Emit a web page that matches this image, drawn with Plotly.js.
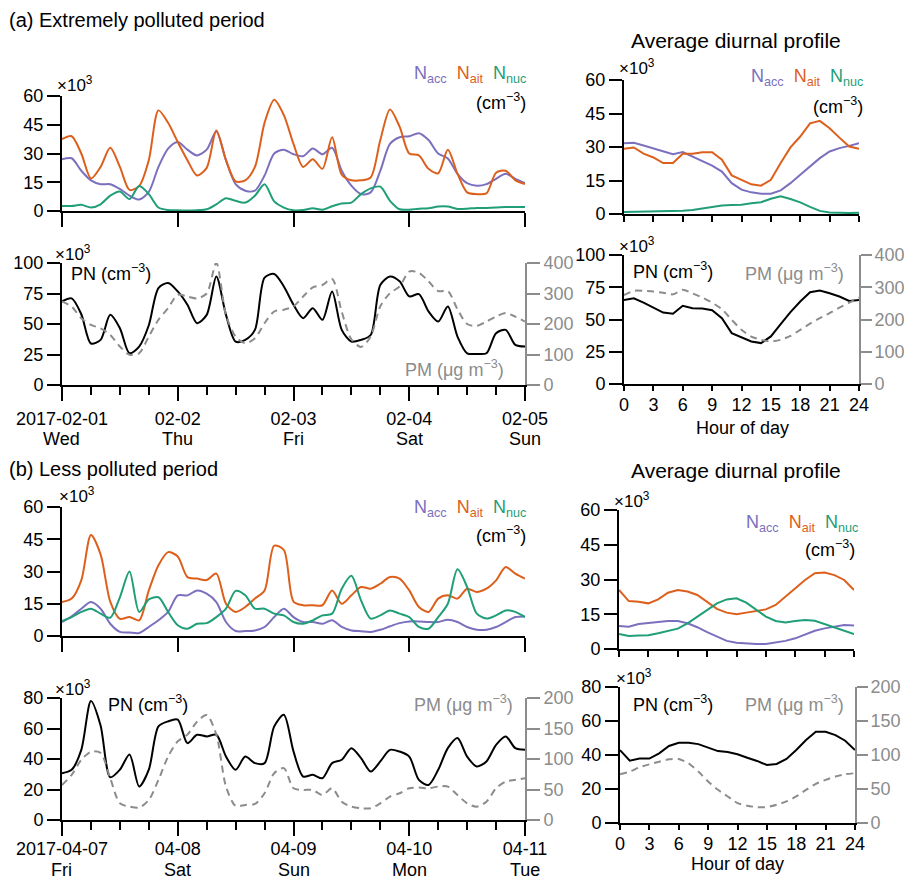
<!DOCTYPE html>
<html>
<head>
<meta charset="utf-8">
<script src="https://cdn.plot.ly/plotly-3.0.1.min.js"></script>
<style>
  html, body { margin: 0; padding: 0; background: #fff; }
  #chart { width: 904px; height: 879px; }
</style>
</head>
<body>
<div id="chart"></div>
<script>
// ---------- data ----------
// Four-day series sampled every 2 hours (hours since first midnight)
const extDates  = ['2017-02-01', '02-02', '02-03', '02-04', '02-05'];
const extWeekdays = ['Wed', 'Thu', 'Fri', 'Sat', 'Sun'];
const lessDates = ['2017-04-07', '04-08', '04-09', '04-10', '04-11'];
const lessWeekdays = ['Fri', 'Sat', 'Sun', 'Mon', 'Tue'];
const dayTicks = [0, 24, 48, 72, 96];
const hourTicks = [0, 3, 6, 9, 12, 15, 18, 21, 24];

// (a) extremely polluted period, number concentrations (x10^3 cm^-3)
const extNacc = [27, 27.5, 21, 16, 14, 14, 11.5, 8, 6, 10, 23, 32.5, 36, 32, 29, 32, 41.5, 26.5, 14, 10.6,
  10.6, 18.5, 30, 32, 29.6, 28.6, 32.6, 29.6, 33, 21, 13.2, 8.8, 9.7, 21, 35, 38.5, 39, 40.6, 37, 30,
  27.4, 19.4, 14.5, 13.2, 14, 16.8, 19.4, 16.8, 14.6];
const extNait = [37.5, 39, 30, 17, 23, 33, 23, 11, 13, 26.5, 52.5, 46, 36, 26.5, 18.5, 22.5, 42, 26.5, 15.5, 16,
  23, 46, 58, 50, 35, 23, 27, 22, 38.5, 19, 16, 16, 17.5, 37, 53, 44, 30, 29, 22, 19.7,
  32, 19.5, 9.7, 8.8, 9.2, 20, 21, 16, 14];
const extNnuc = [2.6, 2.6, 3.2, 1.8, 3.5, 8, 10.2, 6.2, 13, 8.8, 1.8, 0.5, 0.4, 0.2, 0.4, 0.9, 3.5, 6.7, 5.3, 4.4,
  8, 14, 5, 1.8, 0.4, 0.5, 1.4, 0.7, 2.5, 3.9, 4.4, 8.8, 11.8, 12.7, 5.3, 0.9, 0.7, 1.2, 1.4, 2.3,
  2.3, 1.1, 1.2, 1.6, 1.6, 1.8, 2.1, 2.1, 2.1];
const extPN = [68.5, 71, 58, 34, 37, 57.5, 46.6, 26, 31.5, 49, 79.5, 83.6, 76.7, 65.8, 50.7, 57.5, 89, 57.5, 35.6, 37,
  45.2, 88, 91, 80.8, 65.8, 54.8, 63, 53.4, 76.7, 45.2, 35.6, 37, 41, 82, 89, 85, 72.6, 74.5, 60.3, 52,
  64.4, 39.7, 26, 25.5, 26, 42.5, 45.2, 32.9, 31.5];
const extPM = [274, 257, 219, 197, 186, 164, 126, 99, 104, 159, 214, 252, 296, 290, 284, 300, 400, 230, 159, 137,
  153, 203, 241, 247, 258, 290, 320, 328, 348, 240, 150, 125, 159, 258, 301, 323, 372, 368, 340, 308,
  308, 248, 200, 194, 208, 224, 236, 224, 208];

// (b) less polluted period
const lessNacc = [6.5, 9.1, 12.7, 15.8, 12.7, 5.7, 1.9, 1.6, 1.4, 4.2, 7.3, 11.2, 18.9, 18.9, 21.2, 19.7, 15.8, 6.5, 2.3, 2.3,
  2.6, 4.2, 8.8, 12.7, 8.8, 6.5, 6.5, 5.7, 7.3, 4.2, 2.6, 2.2, 1.9, 2.9, 4.5, 6, 6.8, 6.8, 6.5, 6.5,
  7.6, 6.5, 4.2, 2.9, 2.9, 4.2, 6.5, 8.8, 9.1];
const lessNait = [15.8, 17.4, 25.9, 47, 38, 16, 8, 8.8, 7.3, 21.2, 32.9, 39, 37, 27.4, 26.7, 26, 29, 15, 11.2, 13.5,
  17.4, 21.2, 42, 40, 16, 14.3, 14.3, 14.3, 21.2, 15, 18.9, 22.8, 22, 24.3, 27.4, 26.7, 21.2, 13.5, 11.2, 17.4,
  18.9, 17.4, 22, 20.5, 22, 25.9, 32.1, 29, 26.7];
const lessNnuc = [7, 8.8, 11.2, 12.7, 10.4, 8.5, 18, 30, 11.2, 17, 18, 11.2, 5, 3.4, 5.7, 6, 8.8, 12.7, 21, 19,
  12.7, 12.7, 10.4, 9.6, 6.5, 5.7, 7.3, 9.6, 10.4, 22, 28, 16.6, 8.1, 9.6, 11.9, 10.4, 8.8, 4.2, 3.4, 8.8,
  15, 31, 22.8, 10.4, 8.1, 9.6, 11.9, 11.2, 8.8];
const lessPN = [30.7, 32.9, 46, 78, 62, 28, 33, 43, 22, 33, 61.4, 64.7, 65.8, 50.4, 55.9, 54.8, 55.9, 41.6, 32.9, 41.6,
  37.3, 37.3, 61.4, 69, 45, 28.5, 29.6, 27.4, 37.3, 39.5, 47.1, 40.6, 31.8, 38.4, 46, 44.9, 41.6, 26.3, 23, 32.9,
  47.1, 53.7, 41.6, 35.1, 38.4, 49.3, 54.8, 47.1, 46];
const lessPM = [57.5, 74, 98.6, 112, 110, 68.5, 27.4, 21.9, 20.3, 32.9, 65.8, 104, 129, 140, 161, 172, 140, 55, 23, 24.7,
  26.3, 43.8, 76.7, 85, 52, 49.3, 49.3, 41, 52, 30, 21.9, 19.2, 19.2, 27.4, 38.4, 43.8, 52, 53.2, 52, 54.8,
  54.8, 41, 27.4, 21.9, 30, 52, 63, 65.8, 68.5];

// Average diurnal profiles, hours 0..24
const hours = [0, 1, 2, 3, 4, 5, 6, 7, 8, 9, 10, 11, 12, 13, 14, 15, 16, 17, 18, 19, 20, 21, 22, 23, 24];
const extDiurNacc = [31.7, 31.9, 30.7, 29.5, 28, 26.8, 27.7, 25.8, 23.8, 21.7, 19, 13.8, 10.9, 9.7, 9.1, 9.1, 10.6, 13.8, 17.6, 21.3, 25, 28, 29.5, 30.5, 31.7];
const extDiurNait = [29.2, 29.8, 27, 25.3, 22.8, 22.8, 27, 27, 27.7, 27.7, 24.3, 17.3, 15.3, 13.3, 12.7, 15.3, 22.8, 29.8, 34.7, 40.6, 41.7, 38.4, 34.2, 30.2, 29.2];
const extDiurNnuc = [0.9, 1.0, 1.1, 1.0, 1.0, 1.2, 1.4, 1.8, 2.4, 3.3, 3.8, 4.0, 4.1, 4.8, 5.3, 6.8, 7.9, 6.7, 5.2, 3.2, 1.4, 0.7, 0.5, 0.5, 0.6];
const extDiurPN = [65.2, 66.5, 63.1, 59.5, 55.4, 54.4, 60.6, 58.8, 58.5, 57.2, 51, 39.4, 36, 33, 31.7, 36.9, 46.4, 55.7, 63.9, 71.1, 72.4, 70.4, 67.8, 64.4, 65.2];
const extDiurPM = [276, 289, 289, 287, 283, 278, 292, 281, 268, 252, 232, 199, 168, 147, 137, 132, 137, 149, 168, 187, 204, 220, 237, 252, 268];

const lessDiurNacc = [9.9, 9.6, 10.8, 11.4, 11.7, 12.1, 12.1, 11.1, 9.4, 7.3, 5.3, 3.5, 2.7, 2.3, 2.2, 2.2, 2.7, 3.5, 4.6, 6.3, 7.9, 8.9, 9.6, 10.4, 10.1];
const lessDiurNait = [25.5, 20.7, 20.4, 19.7, 21.4, 24.3, 25.5, 24.8, 23.3, 20.4, 17.3, 15.7, 15, 15.7, 16.4, 17.1, 19, 22.6, 26.2, 29.8, 32.7, 33, 31.9, 29.8, 25.5];
const lessDiurNnuc = [6.5, 5.6, 5.8, 5.9, 6.8, 7.9, 8.8, 11.1, 14, 16.8, 19.7, 21.4, 21.9, 20, 16.8, 14, 12.1, 11.4, 12.1, 12.5, 12.2, 10.8, 9.4, 7.8, 6.5];
const lessDiurPN = [42.9, 36.7, 38, 37.9, 41, 45.3, 47.2, 47.2, 46.4, 44.3, 42.3, 41.8, 40.4, 38.4, 36.5, 34.1, 34.7, 37.7, 42.9, 48.8, 53.7, 53.7, 51.7, 48.4, 42.9];
const lessDiurPM = [71.7, 75.6, 82, 86.3, 90.2, 93.7, 94.1, 87.8, 75.6, 61, 48.8, 39, 29.3, 25.4, 23.4, 23.4, 26.8, 31.7, 39, 48.8, 57.6, 63.4, 68.3, 71.7, 73.2];

// ---------- styling ----------
const W = 904, H = 879;
const FONT = 'Liberation Sans, Arial, sans-serif';
const C_ACC = '#7a70bd', C_AIT = '#dd5f1c', C_NUC = '#1f9e77', C_PM = '#8c8c8c';

const tStep = 2;
const tSeries = extNacc.map((_, i) => i * tStep);
const minorTicks = [];
for (let h = 6; h < 96; h += 6) if (h % 24 !== 0) minorTicks.push(h);

const fx = p => p / W;
const fy = p => 1 - p / H;

function ax(extra) {
  return Object.assign({
    showline: true, linecolor: '#000', linewidth: 2,
    ticks: 'outside', ticklen: 13, tickwidth: 2, tickcolor: '#000',
    showgrid: false, zeroline: false, fixedrange: true,
    tickfont: { family: FONT, size: 18, color: '#000' }
  }, extra);
}
const pmTickFont = { family: FONT, size: 18, color: C_PM };

const layout = {
  width: W, height: H,
  margin: { l: 0, r: 0, t: 0, b: 0 },
  paper_bgcolor: '#fff', plot_bgcolor: 'rgba(0,0,0,0)',
  showlegend: false,
  font: { family: FONT, size: 18, color: '#000' },
  annotations: []
};

// panel frames in pixels: [x0, x1, yTop, yBottom]
const P = {
  aTL: [62, 525, 96, 211],
  aBL: [62, 525, 263, 385],
  aTR: [624, 859, 80, 214],
  aBR: [624, 859, 255, 384],
  bTL: [62, 525, 507, 636],
  bBL: [62, 525, 698, 820],
  bTR: [619, 854, 510, 649],
  bBR: [620, 855, 687, 823]
};
const dx = p => [fx(p[0]), fx(p[1])];
const dy = p => [fy(p[3]), fy(p[2])];
const minorSpec = { tickmode: 'array', tickvals: minorTicks, ticks: 'outside', ticklen: 8, tickwidth: 2, tickcolor: '#000' };

// (a) top-left
layout.xaxis  = ax({ domain: dx(P.aTL), anchor: 'y', range: [0, 96], tickmode: 'array', tickvals: dayTicks, showticklabels: false, ticklen: 14 });
layout.yaxis  = ax({ domain: dy(P.aTL), anchor: 'x', range: [0, 60], tickmode: 'array', tickvals: [0, 15, 30, 45, 60] });
// (a) bottom-left
layout.xaxis2 = ax({ domain: dx(P.aBL), anchor: 'y2', range: [0, 96], tickmode: 'array', tickvals: dayTicks, ticktext: extDates, ticklen: 14,
  ticklabelstandoff: 2, minor: minorSpec });
layout.yaxis2 = ax({ domain: dy(P.aBL), anchor: 'x2', range: [0, 100], tickmode: 'array', tickvals: [0, 25, 50, 75, 100] });
layout.yaxis3 = ax({ overlaying: 'y2', anchor: 'x2', side: 'right', range: [0, 400], tickmode: 'array', tickvals: [0, 100, 200, 300, 400],
  linecolor: C_PM, tickcolor: C_PM, tickfont: pmTickFont });
// (a) top-right
layout.xaxis3 = ax({ domain: dx(P.aTR), anchor: 'y4', range: [0, 24], tickmode: 'array', tickvals: hourTicks, showticklabels: false, ticklen: 6 });
layout.yaxis4 = ax({ domain: dy(P.aTR), anchor: 'x3', range: [0, 60], tickmode: 'array', tickvals: [0, 15, 30, 45, 60] });
// (a) bottom-right
layout.xaxis4 = ax({ domain: dx(P.aBR), anchor: 'y5', range: [0, 24], tickmode: 'array', tickvals: hourTicks, ticklen: 5, ticklabelstandoff: -2 });
layout.yaxis5 = ax({ domain: dy(P.aBR), anchor: 'x4', range: [0, 100], tickmode: 'array', tickvals: [0, 25, 50, 75, 100] });
layout.yaxis6 = ax({ overlaying: 'y5', anchor: 'x4', side: 'right', range: [0, 400], tickmode: 'array', tickvals: [0, 100, 200, 300, 400],
  linecolor: C_PM, tickcolor: C_PM, ticklen: 11, ticklabelstandoff: -1, tickfont: pmTickFont });
// (b) top-left
layout.xaxis5 = ax({ domain: dx(P.bTL), anchor: 'y7', range: [0, 96], tickmode: 'array', tickvals: dayTicks, showticklabels: false, ticklen: 14 });
layout.yaxis7 = ax({ domain: dy(P.bTL), anchor: 'x5', range: [0, 60], tickmode: 'array', tickvals: [0, 15, 30, 45, 60] });
// (b) bottom-left
layout.xaxis6 = ax({ domain: dx(P.bBL), anchor: 'y8', range: [0, 96], tickmode: 'array', tickvals: dayTicks, ticktext: lessDates, ticklen: 14,
  ticklabelstandoff: -3, minor: minorSpec });
layout.yaxis8 = ax({ domain: dy(P.bBL), anchor: 'x6', range: [0, 80], tickmode: 'array', tickvals: [0, 20, 40, 60, 80] });
layout.yaxis9 = ax({ overlaying: 'y8', anchor: 'x6', side: 'right', range: [0, 200], tickmode: 'array', tickvals: [0, 50, 100, 150, 200],
  linecolor: C_PM, tickcolor: C_PM, tickfont: pmTickFont });
// (b) top-right
layout.xaxis7 = ax({ domain: dx(P.bTR), anchor: 'y10', range: [0, 24], tickmode: 'array', tickvals: hourTicks, showticklabels: false, ticklen: 6 });
layout.yaxis10 = ax({ domain: dy(P.bTR), anchor: 'x7', range: [0, 60], tickmode: 'array', tickvals: [0, 15, 30, 45, 60] });
// (b) bottom-right
layout.xaxis8 = ax({ domain: dx(P.bBR), anchor: 'y11', range: [0, 24], tickmode: 'array', tickvals: hourTicks, ticklen: 5, ticklabelstandoff: -2 });
layout.yaxis11 = ax({ domain: dy(P.bBR), anchor: 'x8', range: [0, 80], tickmode: 'array', tickvals: [0, 20, 40, 60, 80] });
layout.yaxis12 = ax({ overlaying: 'y11', anchor: 'x8', side: 'right', range: [0, 200], tickmode: 'array', tickvals: [0, 50, 100, 150, 200],
  linecolor: C_PM, tickcolor: C_PM, ticklen: 11, ticklabelstandoff: -1, tickfont: pmTickFont });

// ---------- traces ----------
const traces = [];
function line(x, y, xa, ya, color, opts) {
  traces.push(Object.assign({
    type: 'scatter', mode: 'lines', x: x, y: y, xaxis: xa, yaxis: ya,
    line: { color: color, width: 2, shape: 'spline', smoothing: 0.8 },
    hoverinfo: 'skip', cliponaxis: false
  }, opts || {}));
}
function pmLine(x, y, xa, ya, smooth) {
  traces.push({ type: 'scatter', mode: 'lines', x: x, y: y, xaxis: xa, yaxis: ya, hoverinfo: 'skip',
    line: { color: C_PM, width: 2, shape: 'spline', smoothing: smooth, dash: '7px,5px' } });
}
const straight = c => ({ line: { color: c, width: 2 } });

// (a) time series
line(tSeries, extNacc, 'x', 'y', C_ACC);
line(tSeries, extNait, 'x', 'y', C_AIT);
line(tSeries, extNnuc, 'x', 'y', C_NUC);
pmLine(tSeries, extPM, 'x2', 'y3', 0.8);
line(tSeries, extPN, 'x2', 'y2', '#000');
// (a) diurnal
line(hours, extDiurNacc, 'x3', 'y4', C_ACC, straight(C_ACC));
line(hours, extDiurNait, 'x3', 'y4', C_AIT, straight(C_AIT));
line(hours, extDiurNnuc, 'x3', 'y4', C_NUC, straight(C_NUC));
pmLine(hours, extDiurPM, 'x4', 'y6', 0.6);
line(hours, extDiurPN, 'x4', 'y5', '#000', straight('#000'));
// (b) time series
line(tSeries, lessNacc, 'x5', 'y7', C_ACC);
line(tSeries, lessNait, 'x5', 'y7', C_AIT);
line(tSeries, lessNnuc, 'x5', 'y7', C_NUC);
pmLine(tSeries, lessPM, 'x6', 'y9', 0.8);
line(tSeries, lessPN, 'x6', 'y8', '#000');
// (b) diurnal
line(hours, lessDiurNacc, 'x7', 'y10', C_ACC, straight(C_ACC));
line(hours, lessDiurNait, 'x7', 'y10', C_AIT, straight(C_AIT));
line(hours, lessDiurNnuc, 'x7', 'y10', C_NUC, straight(C_NUC));
pmLine(hours, lessDiurPM, 'x8', 'y12', 0.6);
line(hours, lessDiurPN, 'x8', 'y11', '#000', straight('#000'));

// ---------- text ----------
function note(text, x, y, xanchor, size, color) {
  layout.annotations.push({
    xref: 'paper', yref: 'paper', x: fx(x), y: fy(y), xanchor: xanchor || 'left', yanchor: 'middle',
    text: text, showarrow: false, font: { family: FONT, size: size || 18, color: color || '#000' }
  });
}
// weekday names under the date ticks
function weekdays(names, xa, y) {
  names.forEach((n, i) => layout.annotations.push({
    xref: xa, yref: 'paper', x: dayTicks[i], y: fy(y), xanchor: 'center', yanchor: 'middle',
    text: n, showarrow: false, font: { family: FONT, size: 18, color: '#000' }
  }));
}
weekdays(extWeekdays, 'x2', 439);
weekdays(lessWeekdays, 'x6', 870);

const sci = '×10<sup>3</sup>';
const legendN = `<span style="color:${C_ACC}">N<sub>acc</sub></span>  <span style="color:${C_AIT}">N<sub>ait</sub></span>  <span style="color:${C_NUC}">N<sub>nuc</sub></span>`;
const unitN = '(cm<sup>−3</sup>)';

note('(a) Extremely polluted period', 7, 20, 'left', 20);
note('(b) Less polluted period', 7, 469, 'left', 20);
note('Average diurnal profile', 736, 40, 'center', 21);
note('Average diurnal profile', 736, 470, 'center', 21);

// multiplier labels above the left axes
note(sci, 55, 84, 'left', 17);
note(sci, 53, 253, 'left', 17);
note(sci, 617, 67, 'left', 17);
note(sci, 617, 245, 'left', 17);
note(sci, 57, 495, 'left', 17);
note(sci, 53, 688, 'left', 17);
note(sci, 612, 500, 'left', 17);
note(sci, 614, 677, 'left', 17);

// series keys
note(legendN, 528, 74, 'right', 18);
note(unitN, 528, 102, 'right', 18);
note(legendN, 865, 78, 'right', 18);
note(unitN, 865, 105, 'right', 18);
note(legendN, 528, 508, 'right', 18);
note(unitN, 528, 534, 'right', 18);
note(legendN, 860, 523, 'right', 18);
note(unitN, 857, 548, 'right', 18);

// PN / PM labels
note('PN (cm<sup>−3</sup>)', 69, 272, 'left', 18);
note('PM (μg m<sup>−3</sup>)', 506, 368, 'right', 18, C_PM);
note('PN (cm<sup>−3</sup>)', 631, 270, 'left', 18);
note('PM (μg m<sup>−3</sup>)', 846, 273, 'right', 18, C_PM);
note('PN (cm<sup>−3</sup>)', 106, 703, 'left', 18);
note('PM (μg m<sup>−3</sup>)', 515, 703, 'right', 18, C_PM);
note('PN (cm<sup>−3</sup>)', 631, 703, 'left', 18);
note('PM (μg m<sup>−3</sup>)', 846, 703, 'right', 18, C_PM);

// hour axis titles
note('Hour of day', 742, 428, 'center', 18);
note('Hour of day', 737, 864, 'center', 18);

Plotly.newPlot('chart', traces, layout, { displayModeBar: false, staticPlot: true });
</script>
</body>
</html>
